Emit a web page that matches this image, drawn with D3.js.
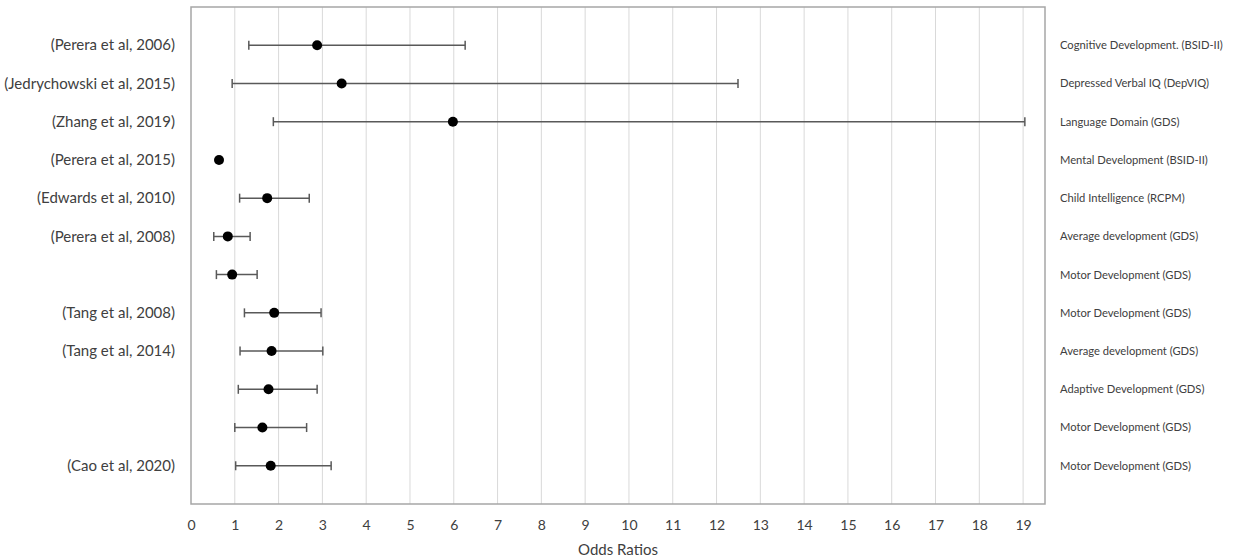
<!DOCTYPE html>
<html>
<head>
<meta charset="utf-8">
<script src="https://cdn.jsdelivr.net/npm/d3@7"></script>
<style>
  body { margin: 0; background: #fff; }
</style>
</head>
<body>
<div class="center"></div>
<script>
// chart data
var studies = ["(Perera et al, 2006)", "(Jedrychowski et al, 2015)", "(Zhang et al, 2019)",
    "(Perera et al, 2015)", "(Edwards et al, 2010)", "(Perera et al, 2008)", "",
    "(Tang et al, 2008)", "(Tang et al, 2014)", "", "", "(Cao et al, 2020)"];
var outcomes = ["Cognitive Development. (BSID-II)", "Depressed Verbal IQ (DepVIQ)", "Language Domain (GDS)",
    "Mental Development (BSID-II)", "Child Intelligence (RCPM)", "Average development (GDS)",
    "Motor Development (GDS)", "Motor Development (GDS)", "Average development (GDS)",
    "Adaptive Development (GDS)", "Motor Development (GDS)", "Motor Development (GDS)"];
var oddsRatio = [2.88, 3.44, 5.98, 0.64, 1.74, 0.84, 0.94, 1.90, 1.84, 1.77, 1.63, 1.82];
var ciLower   = [1.32, 0.94, 1.88, null, 1.11, 0.52, 0.58, 1.22, 1.12, 1.08, 1.00, 1.02];
var ciUpper   = [6.26, 12.49, 19.04, null, 2.70, 1.35, 1.51, 2.97, 3.01, 2.88, 2.64, 3.20];
var xTicks = d3.range(0, 20);

var margin = {top: 7, right: 203, bottom: 56, left: 191},
    width = 1248 - margin.left - margin.right,
    height = 560 - margin.top - margin.bottom;

var font = "Lato, 'Open Sans', sans-serif";

var data = oddsRatio.map(function(v, i) {
    return {i: i, or: v, lo: ciLower[i], hi: ciUpper[i]};
});

var x = d3.scaleLinear().domain([0, 19.5]).range([0, width]);
var y = d3.scalePoint().domain(d3.range(studies.length)).range([0, height]).padding(1);

var svg = d3.select(".center").append("svg")
    .attr("width", 1248)
    .attr("height", 560)
    .append("g")
    .attr("transform", "translate(" + margin.left + "," + margin.top + ")");

// vertical gridlines
svg.selectAll("line.grid")
    .data(xTicks.slice(1))
    .enter().append("line")
    .attr("class", "grid")
    .attr("x1", function(d) { return x(d); })
    .attr("x2", function(d) { return x(d); })
    .attr("y1", 0)
    .attr("y2", height)
    .attr("stroke", "#d9d9d9")
    .attr("stroke-width", 1);

// plot frame
svg.append("rect")
    .attr("x", 0)
    .attr("y", 0)
    .attr("width", width)
    .attr("height", height)
    .attr("fill", "none")
    .attr("stroke", "#a6a6a6")
    .attr("stroke-width", 1.5);

// x axis
var xAxis = svg.append("g")
    .attr("transform", "translate(0," + height + ")")
    .call(d3.axisBottom(x).tickValues(xTicks).tickSize(0).tickPadding(16).tickFormat(d3.format("d")));
xAxis.select(".domain").remove();
xAxis.selectAll("text")
    .attr("font-family", font)
    .attr("font-size", "14px")
    .attr("fill", "#404040");

// error bars
var ci = data.filter(function(d) { return d.lo != null; });
var bars = svg.selectAll("g.ci")
    .data(ci)
    .enter().append("g")
    .attr("class", "ci")
    .attr("stroke", "#595959")
    .attr("stroke-width", 1.5);
bars.append("line")
    .attr("x1", function(d) { return x(d.lo); })
    .attr("x2", function(d) { return x(d.hi); })
    .attr("y1", function(d) { return y(d.i); })
    .attr("y2", function(d) { return y(d.i); });
bars.append("line")
    .attr("x1", function(d) { return x(d.lo); })
    .attr("x2", function(d) { return x(d.lo); })
    .attr("y1", function(d) { return y(d.i) - 4.5; })
    .attr("y2", function(d) { return y(d.i) + 4.5; });
bars.append("line")
    .attr("x1", function(d) { return x(d.hi); })
    .attr("x2", function(d) { return x(d.hi); })
    .attr("y1", function(d) { return y(d.i) - 4.5; })
    .attr("y2", function(d) { return y(d.i) + 4.5; });

// odds ratio points
svg.selectAll("circle.or")
    .data(data)
    .enter().append("circle")
    .attr("class", "or")
    .attr("cx", function(d) { return x(d.or); })
    .attr("cy", function(d) { return y(d.i); })
    .attr("r", 5)
    .attr("fill", "#000");

// study labels (left)
svg.selectAll("text.study")
    .data(studies)
    .enter().append("text")
    .attr("class", "study")
    .attr("x", -16)
    .attr("y", function(d, i) { return y(i); })
    .attr("dy", "0.35em")
    .attr("text-anchor", "end")
    .attr("font-family", font)
    .attr("font-size", "15px")
    .attr("fill", "#404040")
    .text(function(d) { return d; });

// outcome labels (right)
svg.selectAll("text.outcome")
    .data(outcomes)
    .enter().append("text")
    .attr("class", "outcome")
    .attr("x", width + 15)
    .attr("y", function(d, i) { return y(i); })
    .attr("dy", "0.35em")
    .attr("font-family", font)
    .attr("font-size", "11.2px")
    .attr("fill", "#404040")
    .text(function(d) { return d; });

// x axis title
svg.append("text")
    .attr("x", width / 2)
    .attr("y", height + 51)
    .attr("text-anchor", "middle")
    .attr("font-family", font)
    .attr("font-size", "15px")
    .attr("fill", "#404040")
    .text("Odds Ratios");
</script>
</body>
</html>
